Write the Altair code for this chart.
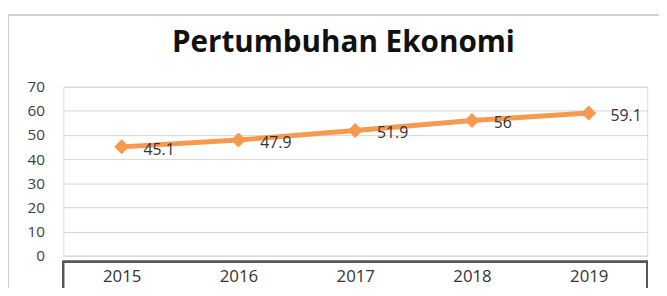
import altair as alt
import pandas as pd

years = ["2015", "2016", "2017", "2018", "2019"]
values = [45.1, 47.9, 51.9, 56, 59.1]
labels = ["45.1", "47.9", "51.9", "56", "59.1"]
y_ticks = [0, 10, 20, 30, 40, 50, 60, 70]
title_text = "Pertumbuhan Ekonomi"

df = pd.DataFrame({"year": years, "value": values, "label": labels})

W, H = 591, 171
ORANGE = "#F59A4F"
FONT = "Open Sans"

x_enc = alt.X("year:O", scale=alt.Scale(padding=0.5),
              axis=alt.Axis(title=None, labelAngle=0, domain=False, ticks=False,
                            labelFont=FONT, labelFontSize=17, labelColor="#333333",
                            labelPadding=13, grid=False))
y_enc = alt.Y("value:Q", scale=alt.Scale(domain=[0, 70], nice=False),
              axis=alt.Axis(title=None, values=y_ticks,
                            domain=False, ticks=False, labelFont=FONT, labelFontSize=15.5,
                            labelColor="#404040", labelPadding=19, labelOverlap=False,
                            gridColor="#d4d4d4", gridWidth=1))

base = alt.Chart(df)

line = base.mark_line(color=ORANGE, strokeWidth=5).encode(x=x_enc, y=y_enc)
pts = base.mark_point(shape="diamond", filled=True, size=230, color=ORANGE, opacity=1).encode(
    x=x_enc, y=y_enc)
txt = base.mark_text(align="left", baseline="middle", dx=22, dy=3, font=FONT,
                     fontSize=16, color="#333333").encode(x=x_enc, y=y_enc, text="label:N")

# decorative outer frame and the table box under the plot
frame = base.mark_rect(fill=None, stroke="#cfcfcf", strokeWidth=1.5, clip=False).encode(
    x=alt.value(-56), x2=alt.value(W + 40), y=alt.value(-73), y2=alt.value(H + 80))
box = base.mark_rect(fill=None, stroke="#555555", strokeWidth=1.6, clip=False).encode(
    x=alt.value(0), x2=alt.value(W), y=alt.value(H + 6), y2=alt.value(H + 60))

chart = alt.layer(frame, line, pts, txt, box).properties(
    width=W, height=H,
    autosize=alt.AutoSizeParams(type="none"),
    padding={"left": 56, "top": 78, "right": 12, "bottom": 31},
    title=alt.TitleParams(title_text, font=FONT, fontSize=30, fontWeight="bold",
                          color="#111111", anchor="middle", frame="group", dx=-12, offset=-45),
).configure_view(stroke=None).configure(background="white")

chart.save("out.html", embed_options={"renderer": "svg", "actions": False})
